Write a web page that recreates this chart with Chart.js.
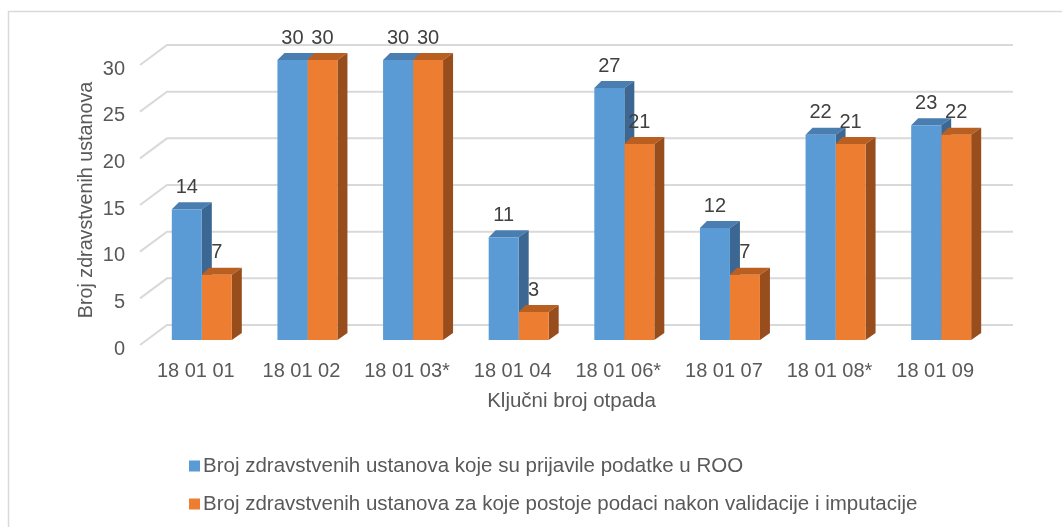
<!DOCTYPE html>
<html>
<head>
<meta charset="utf-8">
<script src="https://cdn.jsdelivr.net/npm/chart.js@4.4.1/dist/chart.umd.min.js"></script>
<style>
  html, body { margin: 0; padding: 0; background: #fff; }
  #wrap { width: 1062px; height: 527px; }
</style>
</head>
<body>
<div id="wrap"><canvas id="chart" width="1062" height="527"></canvas></div>
<script>
// podaci
const categories = ['18 01 01', '18 01 02', '18 01 03*', '18 01 04', '18 01 06*', '18 01 07', '18 01 08*', '18 01 09'];
const prijavile = [14, 30, 30, 11, 27, 12, 22, 23];
const nakonValidacije = [7, 30, 30, 3, 21, 7, 21, 22];
const seriesLabels = [
  'Broj zdravstvenih ustanova koje su prijavile podatke u ROO',
  'Broj zdravstvenih ustanova za koje postoje podaci nakon validacije i imputacije'
];
const yMin = 0, yMax = 30, yStep = 5;

const FONT = '"Liberation Sans", Arial, sans-serif';
const textGray = '#595959';

// === 3D stranice stupaca + zadnji zid ===
const bars3d = {
  id: 'bars3d',
  beforeDatasetsDraw(chart) {
    const ctx = chart.ctx;
    const ys = chart.scales.y;
    const area = chart.chartArea;
    ctx.save();
    ctx.strokeStyle = '#d9d9d9';
    ctx.lineWidth = 2;
    ys.ticks.forEach(t => {
      const yf = ys.getPixelForValue(t.value);
      ctx.beginPath();
      ctx.moveTo(area.left - 9, yf + 5);
      ctx.lineTo(area.left + 18, yf - 15);
      ctx.lineTo(area.right + 19, yf - 15);
      ctx.stroke();
    });

    chart.data.datasets.forEach((ds, i) => {
      chart.getDatasetMeta(i).data.forEach(bar => {
        const p = bar.getProps(['x', 'y', 'base', 'width'], true);
        const l = p.x - p.width / 2, r = p.x + p.width / 2;
        // gornja ploha
        ctx.fillStyle = ds.topColor;
        ctx.beginPath();
        ctx.moveTo(l, p.y);
        ctx.lineTo(l + 7, p.y - 7);
        ctx.lineTo(r + 10, p.y - 7);
        ctx.lineTo(r, p.y);
        ctx.closePath();
        ctx.fill();
        // bocna ploha
        ctx.fillStyle = ds.sideColor;
        ctx.beginPath();
        ctx.moveTo(r, p.y);
        ctx.lineTo(r + 10, p.y - 7);
        ctx.lineTo(r + 10, p.base - 7);
        ctx.lineTo(r, p.base);
        ctx.closePath();
        ctx.fill();
      });
    });
    ctx.restore();
  },
  afterDatasetsDraw(chart) {
    // oznake vrijednosti
    const ctx = chart.ctx;
    ctx.save();
    ctx.font = '20px ' + FONT;
    ctx.fillStyle = '#404040';
    ctx.textAlign = 'center';
    ctx.textBaseline = 'middle';
    chart.data.datasets.forEach((ds, i) => {
      chart.getDatasetMeta(i).data.forEach((bar, j) => {
        ctx.fillText(String(ds.data[j]), bar.x, bar.y - 22);
      });
    });
    ctx.restore();
  }
};

// okvir + legenda
const frameLegend = {
  id: 'frameLegend',
  beforeDraw(chart) {
    const ctx = chart.ctx;
    ctx.save();
    ctx.fillStyle = '#fff';
    ctx.fillRect(0, 0, chart.width, chart.height);
    ctx.strokeStyle = '#d9d9d9';
    ctx.lineWidth = 1.5;
    ctx.strokeRect(8.5, 11.5, chart.width + 50, chart.height + 50);
    ctx.restore();
  },
  afterDraw(chart) {
    const ctx = chart.ctx;
    ctx.save();
    ctx.font = '20.5px ' + FONT;
    ctx.textBaseline = 'middle';
    chart.data.datasets.forEach((ds, i) => {
      const yy = 466 + i * 38;
      ctx.fillStyle = ds.backgroundColor;
      ctx.fillRect(189, yy - 5.5, 11, 11);
      ctx.fillStyle = textGray;
      ctx.fillText(ds.label, 203, yy);
    });
    ctx.restore();
  }
};

new Chart(document.getElementById('chart'), {
  type: 'bar',
  data: {
    labels: categories,
    datasets: [
      {
        label: seriesLabels[0],
        data: prijavile,
        backgroundColor: '#5b9bd5',
        topColor: '#4a7db0',
        sideColor: '#3b6792',
        borderWidth: 0
      },
      {
        label: seriesLabels[1],
        data: nakonValidacije,
        backgroundColor: '#ed7d31',
        topColor: '#b95f22',
        sideColor: '#984d1c',
        borderWidth: 0
      }
    ]
  },
  options: {
    responsive: false,
    animation: false,
    layout: { padding: { left: 75, top: 60, right: 68, bottom: 113 } },
    categoryPercentage: 0.568,
    barPercentage: 1,
    plugins: {
      legend: { display: false },
      tooltip: { enabled: false }
    },
    scales: {
      x: {
        grid: { display: false },
        border: { display: false },
        afterFit: s => { s.height = 74; },
        ticks: { font: { size: 20, family: FONT }, color: textGray, padding: 11, labelOffset: -6, maxRotation: 0 },
        title: {
          display: true,
          text: 'Ključni broj otpada',
          font: { size: 20.5, family: FONT },
          color: textGray,
          padding: { top: 0, bottom: 0 }
        }
      },
      y: {
        min: yMin,
        max: yMax,
        grid: { display: false },
        border: { display: false },
        afterFit: s => { s.width = 74; },
        ticks: { stepSize: yStep, font: { size: 20, family: FONT }, color: textGray, padding: 16, labelOffset: 9 },
        title: {
          display: true,
          text: 'Broj zdravstvenih ustanova',
          font: { size: 19.7, family: FONT },
          color: textGray,
          padding: { top: 0, bottom: 0 }
        }
      }
    }
  },
  plugins: [frameLegend, bars3d]
});
</script>
</body>
</html>
